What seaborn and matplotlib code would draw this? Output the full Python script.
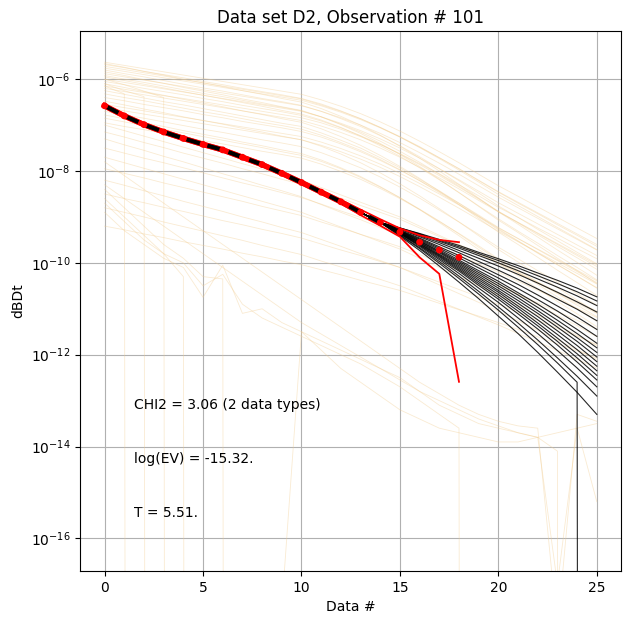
import numpy as np
import pandas as pd
import seaborn as sns
import matplotlib.pyplot as plt
from matplotlib.ticker import NullLocator

# log10 values; Z marks a zero sample, nan = not drawn
Z = -300.0
N = np.nan

data_x = list(range(26))

# observed data (red dots) for data # 0..18
d_obs_log = [-6.58, -6.80, -6.99, -7.15, -7.29, -7.42, -7.54, -7.70, -7.86, -8.05,
             -8.25, -8.46, -8.67, -8.90, -9.12, -9.33, -9.55, -9.72, -9.88]
d_upper_log = [-6.54, -6.76, -6.95, -7.11, -7.25, -7.38, -7.50, -7.66, -7.82, -8.01,
               -8.21, -8.42, -8.63, -8.84, -9.05, -9.25, -9.40, -9.50, -9.55]
d_lower_log = [-6.62, -6.84, -7.03, -7.19, -7.33, -7.46, -7.58, -7.74, -7.90, -8.09,
               -8.29, -8.50, -8.71, -8.96, -9.19, -9.43, -9.88, -10.24, -12.59]

# posterior realisations: shared with the data up to #14, tails for #15..25
post_tails_log = [
    [-9.24, -9.36, -9.49, -9.62, -9.77, -9.91, -10.06, -10.22, -10.38, -10.55, -10.74],
    [-9.24, -9.37, -9.51, -9.65, -9.80, -9.95, -10.11, -10.28, -10.45, -10.63, -10.83],
    [-9.25, -9.38, -9.53, -9.68, -9.84, -10.00, -10.17, -10.35, -10.53, -10.72, -10.93],
    [-9.26, -9.41, -9.56, -9.73, -9.90, -10.07, -10.25, -10.44, -10.64, -10.85, -11.07],
    [-9.27, -9.43, -9.60, -9.78, -9.97, -10.16, -10.36, -10.57, -10.79, -11.01, -11.26],
    [-9.29, -9.46, -9.65, -9.84, -10.05, -10.26, -10.47, -10.70, -10.94, -11.18, -11.45],
    [-9.30, -9.48, -9.68, -9.89, -10.11, -10.33, -10.56, -10.80, -11.05, -11.32, -11.60],
    [-9.31, -9.50, -9.71, -9.94, -10.17, -10.40, -10.65, -10.90, -11.17, -11.45, -11.75],
    [-9.31, -9.52, -9.74, -9.97, -10.21, -10.45, -10.70, -10.97, -11.25, -11.54, -11.85],
    [-9.32, -9.53, -9.76, -10.00, -10.25, -10.50, -10.76, -11.04, -11.33, -11.63, -11.95],
    [-9.33, -9.55, -9.78, -10.03, -10.29, -10.55, -10.82, -11.10, -11.40, -11.71, -12.05],
    [-9.34, -9.56, -9.81, -10.06, -10.33, -10.60, -10.88, -11.17, -11.48, -11.80, -12.15],
    [-9.34, -9.58, -9.83, -10.09, -10.37, -10.64, -10.94, -11.24, -11.56, -11.89, -12.25],
    [-9.35, -9.59, -9.85, -10.12, -10.41, -10.69, -10.99, -11.31, -11.64, -11.98, -12.35],
    [-9.36, -9.61, -9.87, -10.15, -10.45, -10.74, -11.05, -11.37, -11.71, -12.07, -12.45],
    [-9.36, -9.62, -9.90, -10.18, -10.49, -10.79, -11.11, -11.44, -11.79, -12.16, -12.55],
    [-9.37, -9.64, -9.93, -10.23, -10.55, -10.86, -11.20, -11.54, -11.91, -12.29, -12.70],
    [-9.39, -9.67, -9.97, -10.29, -10.62, -10.96, -11.31, -11.68, -12.07, -12.47, -12.90],
    [-9.42, -9.73, -10.07, -10.42, -10.78, -11.16, -11.54, -11.95, -12.38, -12.82, -13.30],
    [-9.40, -9.69, -10.01, -10.34, -10.68, -11.03, -11.40, -11.78, -12.18, -12.60, Z],
]

# prior realisations (faint orange), data # 0..25
prior_log = [
    [-5.63, -5.70, -5.77, -5.84, -5.91, -5.98, -6.05, -6.12, -6.19, -6.26, -6.33, -6.45, -6.59,
     -6.75, -6.93, -7.13, -7.35, -7.58, -7.82, -8.07, -8.32, -8.55, -8.78, -9.01, -9.24, -9.47],
    [-5.66, -5.74, -5.83, -5.91, -6.00, -6.08, -6.16, -6.25, -6.33, -6.42, -6.50, -6.64, -6.81,
     -7.00, -7.22, -7.46, -7.72, -8.00, -8.29, -8.59, -8.89, -9.16, -9.44, -9.72, -9.99, -10.27],
    [-5.68, -5.75, -5.83, -5.90, -5.97, -6.05, -6.12, -6.20, -6.27, -6.34, -6.42, -6.54, -6.69,
     -6.86, -7.05, -7.26, -7.49, -7.73, -7.98, -8.24, -8.51, -8.75, -8.99, -9.23, -9.47, -9.71],
    [-5.72, -5.79, -5.86, -5.93, -6.01, -6.08, -6.15, -6.22, -6.29, -6.36, -6.43, -6.56, -6.70,
     -6.86, -7.05, -7.25, -7.47, -7.71, -7.95, -8.21, -8.46, -8.70, -8.93, -9.17, -9.40, -9.64],
    [-5.76, -5.83, -5.90, -5.97, -6.04, -6.11, -6.18, -6.25, -6.32, -6.39, -6.46, -6.58, -6.72,
     -6.88, -7.06, -7.26, -7.48, -7.71, -7.95, -8.20, -8.45, -8.68, -8.91, -9.14, -9.37, -9.60],
    [-5.80, -5.88, -5.95, -6.03, -6.11, -6.19, -6.26, -6.34, -6.42, -6.49, -6.57, -6.70, -6.86,
     -7.03, -7.23, -7.45, -7.69, -7.95, -8.21, -8.48, -8.76, -9.01, -9.27, -9.52, -9.77, -10.02],
    [-5.84, -5.92, -6.01, -6.09, -6.18, -6.26, -6.34, -6.43, -6.51, -6.60, -6.68, -6.82, -6.99,
     -7.18, -7.40, -7.64, -7.90, -8.18, -8.47, -8.77, -9.07, -9.34, -9.62, -9.90, -10.17, -10.45],
    [-5.88, -5.95, -6.02, -6.09, -6.16, -6.23, -6.30, -6.37, -6.44, -6.51, -6.58, -6.70, -6.84,
     -7.00, -7.18, -7.38, -7.60, -7.83, -8.07, -8.32, -8.57, -8.80, -9.03, -9.26, -9.49, -9.72],
    [-5.92, -6.00, -6.07, -6.15, -6.23, -6.31, -6.38, -6.46, -6.54, -6.61, -6.69, -6.82, -6.98,
     -7.15, -7.35, -7.57, -7.81, -8.07, -8.33, -8.60, -8.88, -9.13, -9.39, -9.64, -9.89, -10.14],
    [-5.95, -6.03, -6.11, -6.19, -6.27, -6.35, -6.43, -6.51, -6.59, -6.68, -6.76, -6.89, -7.05,
     -7.24, -7.45, -7.68, -7.93, -8.19, -8.47, -8.76, -9.04, -9.31, -9.57, -9.84, -10.10, -10.37],
    [-6.00, -6.07, -6.14, -6.21, -6.28, -6.35, -6.42, -6.49, -6.56, -6.63, -6.70, -6.82, -6.96,
     -7.12, -7.30, -7.50, -7.72, -7.95, -8.19, -8.44, -8.69, -8.92, -9.15, -9.38, -9.61, -9.84],
    [-6.05, -6.12, -6.20, -6.27, -6.34, -6.42, -6.49, -6.57, -6.64, -6.71, -6.79, -6.91, -7.06,
     -7.23, -7.42, -7.63, -7.86, -8.10, -8.35, -8.61, -8.88, -9.12, -9.36, -9.60, -9.84, -10.08],
    [-6.10, -6.18, -6.27, -6.35, -6.44, -6.52, -6.60, -6.69, -6.77, -6.86, -6.94, -7.08, -7.25,
     -7.44, -7.66, -7.90, -8.16, -8.44, -8.73, -9.03, -9.33, -9.60, -9.88, -10.16, -10.43, -10.71],
    [-6.15, -6.22, -6.29, -6.36, -6.42, -6.49, -6.56, -6.63, -6.70, -6.77, -6.84, -6.95, -7.09,
     -7.25, -7.42, -7.62, -7.84, -8.06, -8.30, -8.54, -8.79, -9.01, -9.24, -9.46, -9.69, -9.91],
    [-6.20, -6.27, -6.34, -6.41, -6.48, -6.55, -6.62, -6.69, -6.76, -6.83, -6.90, -7.02, -7.16,
     -7.32, -7.50, -7.70, -7.92, -8.15, -8.39, -8.64, -8.89, -9.12, -9.35, -9.58, -9.81, -10.04],
    [-6.25, -6.33, -6.41, -6.49, -6.56, -6.64, -6.72, -6.80, -6.88, -6.96, -7.03, -7.17, -7.33,
     -7.50, -7.71, -7.93, -8.18, -8.43, -8.70, -8.98, -9.26, -9.52, -9.78, -10.04, -10.29, -10.55],
    [-6.32, -6.40, -6.47, -6.55, -6.63, -6.71, -6.78, -6.86, -6.94, -7.01, -7.09, -7.22, -7.38,
     -7.55, -7.75, -7.97, -8.21, -8.47, -8.73, -9.00, -9.28, -9.53, -9.79, -10.04, -10.29, -10.54],
    [-6.40, -6.47, -6.55, -6.62, -6.69, -6.77, -6.84, -6.92, -6.99, -7.06, -7.14, -7.26, -7.41,
     -7.58, -7.77, -7.98, -8.21, -8.45, -8.70, -8.96, -9.23, -9.47, -9.71, -9.95, -10.19, -10.43],
    [-6.48, -6.56, -6.65, -6.73, -6.82, -6.90, -6.98, -7.07, -7.15, -7.24, -7.32, -7.46, -7.63,
     -7.82, -8.04, -8.28, -8.54, -8.82, -9.11, -9.41, -9.71, -9.98, -10.26, -10.54, -10.81, -11.09],
    [-6.55, -6.62, -6.69, -6.76, -6.83, -6.90, -6.97, -7.04, -7.11, -7.18, -7.25, -7.37, -7.51,
     -7.67, -7.85, -8.05, -8.27, -8.50, -8.74, -8.99, -9.24, -9.47, -9.70, -9.93, -10.16, -10.39],
    [-6.62, -6.69, -6.76, -6.83, -6.90, -6.97, -7.04, -7.11, -7.18, -7.25, -7.32, -7.44, -7.58,
     -7.74, -7.92, -8.12, -8.34, -8.57, -8.81, -9.06, -9.31, -9.54, -9.77, -10.00, -10.23, -10.46],
    [-6.70, -6.78, -6.85, -6.93, -7.01, -7.09, -7.16, -7.24, -7.32, -7.39, -7.47, -7.60, -7.76,
     -7.93, -8.13, -8.35, -8.59, -8.85, -9.11, -9.38, -9.66, -9.91, -10.17, -10.42, -10.67, -10.92],
    [-6.78, -6.86, -6.95, -7.03, -7.12, -7.20, -7.28, -7.37, -7.45, -7.54, -7.62, -7.76, -7.93,
     -8.12, -8.34, -8.58, -8.84, -9.12, -9.41, -9.71, -10.01, -10.28, -10.56, -10.84, -11.11, -11.39],
    [-6.85, -6.93, -7.01, -7.09, -7.17, -7.25, -7.33, -7.41, -7.49, -7.58, -7.66, -7.79, -7.95,
     -8.14, -8.35, -8.58, -8.83, -9.09, -9.37, -9.66, -9.94, -10.21, -10.47, -10.74, -11.00, -11.27],
    [-6.95, -7.03, -7.10, -7.18, -7.26, -7.34, -7.41, -7.49, -7.57, -7.64, -7.72, -7.85, -8.01,
     -8.18, -8.38, -8.60, -8.84, -9.10, -9.36, -9.63, -9.91, -10.16, -10.42, -10.67, -10.92, -11.17],
    [-7.00, -7.12, -7.24, -7.36, -7.48, -7.60, -7.72, -7.84, -7.96, -8.08, -8.20, -8.36, -8.52,
     -8.68, -8.84, -9.00, -9.20, -9.40, -9.60, -9.80, -10.00, -10.22, -10.44, -10.66, -10.88, -11.10],
    [-7.15, -7.26, -7.38, -7.49, -7.61, -7.72, -7.83, -7.95, -8.06, -8.18, -8.29, -8.44, -8.59,
     -8.75, -8.90, -9.05, -9.24, -9.43, -9.62, -9.81, -10.00, -10.21, -10.42, -10.63, -10.84, -11.05],
    [-7.30, -7.43, -7.55, -7.68, -7.80, -7.93, -8.06, -8.18, -8.31, -8.43, -8.56, -8.73, -8.90,
     -9.06, -9.23, -9.40, -9.61, -9.82, -10.03, -10.24, -10.45, -10.68, -10.91, -11.14, -11.37, -11.61],
    [-7.50, -7.61, -7.72, -7.82, -7.93, -8.04, -8.15, -8.26, -8.36, -8.47, -8.58, -8.72, -8.87,
     -9.01, -9.16, -9.30, -9.48, -9.66, -9.84, -10.02, -10.20, -10.40, -10.60, -10.79, -10.99, -11.19],
    [-7.70, -7.82, -7.94, -8.06, -8.18, -8.30, -8.42, -8.54, -8.66, -8.78, -8.90, -9.06, -9.22,
     -9.38, -9.54, -9.70, -9.90, -10.10, -10.30, -10.50, -10.70, -10.92, -11.14, -11.36, -11.58, -11.80],
    [-7.95, -8.05, -8.15, -8.26, -8.36, -8.46, -8.56, -8.66, -8.77, -8.87, -8.97, -9.11, -9.24,
     -9.38, -9.51, -9.65, -9.82, -9.99, -10.16, -10.33, -10.50, -10.69, -10.87, -11.06, -11.25, -11.44],
    [-8.20, -8.31, -8.43, -8.54, -8.66, -8.77, -8.88, -9.00, -9.11, -9.23, -9.34, -9.49, -9.64,
     -9.80, -9.95, -10.10, -10.29, -10.48, -10.67, -10.86, -11.05, -11.26, -11.47, -11.68, -11.89, -12.10],
    [-8.50, -8.60, -8.69, -8.79, -8.88, -8.98, -9.08, -9.17, -9.27, -9.36, -9.46, -9.59, -9.72,
     -9.84, -9.97, -10.10, -10.26, -10.42, -10.58, -10.74, -10.90, -11.08, -11.25, -11.43, -11.60, -11.78],
    [-8.80, -8.90, -9.00, -9.11, -9.21, -9.31, -9.41, -9.51, -9.62, -9.72, -9.82, -9.96, -10.09,
     -10.23, -10.36, -10.50, -10.67, -10.84, -11.01, -11.18, -11.35, -11.54, -11.72, -11.91, -12.10, -12.29],
    [-9.20, -9.28, -9.37, -9.45, -9.54, -9.62, -9.70, -9.79, -9.87, -9.96, -10.04, -10.15, -10.26,
     -10.38, -10.49, -10.60, -10.74, -10.88, -11.02, -11.16, -11.30, -11.45, -11.61, -11.76, -11.92, -12.07],
    # noisy / truncated realisations
    [-8.90, -9.30, -9.60, -9.90, -10.10, -10.75, -10.05, -11.10, -11.00, -11.30, -11.50, -11.70, -11.90,
     -12.10, -12.30, -12.50, -12.80, -13.10, -13.30, -13.50, -13.60, -13.70, -13.80, -14.10, Z, Z],
    [-8.70, -9.10, -9.50, -9.80, -10.00, -10.50, -10.25, -10.90, -11.20, -11.40, -11.60, -11.80, -12.00,
     -12.20, -12.45, -12.70, -13.00, -13.30, -13.60, Z, Z, Z, Z, Z, Z, Z],
    [-8.30, -8.60, -8.90, -9.20, -9.50, -9.80, -10.10, -10.40, -10.70, -11.00, -11.30, -11.55, -11.80,
     -12.05, -12.30, -12.55, -12.80, -13.00, -13.20, -13.40, -13.55, -13.70, -13.80, -17.00, -13.60, -15.20],
    [-7.80, -8.10, -8.40, -8.70, -9.00, -9.30, -9.60, -9.90, -10.20, -10.50, -10.80, -11.10, -11.40,
     -11.70, -12.00, -12.30, -12.60, -12.85, -13.10, -13.30, -13.45, -13.55, -13.60, -18.00, -13.30, -13.45],
    [-8.60, -9.00, -9.40, -9.80, -10.30, Z, Z, Z, Z, Z, Z, Z, Z, Z, Z, Z, Z, Z, Z, Z, Z, Z, Z, Z, Z, Z],
    [-8.40, -8.80, -9.20, -9.60, -9.90, -10.30, -10.35, Z, Z, Z, Z, Z, Z, Z, Z, Z, Z, Z, Z, Z, Z, Z,
     Z, Z, Z, Z],
    [N, N, N, N, N, N, N, N, N, -17.50, -11.50, -11.90, -12.30, -12.60, -12.90, -13.20, -13.40,
     -13.60, -13.70, -13.80, -13.90, -13.90, -13.80, -13.70, -13.60, -13.50],
    [-6.15, -6.32, Z, Z, Z, Z, Z, Z, Z, Z, Z, Z, Z, Z, Z, Z, Z, Z, Z, Z, Z, Z, Z, Z, Z, Z],
    [-6.10, -6.25, -6.38, Z, Z, Z, Z, Z, Z, Z, Z, Z, Z, Z, Z, Z, Z, Z, Z, Z, Z, Z, Z, Z, Z, Z],
    [-6.00, -6.12, -6.26, -6.40, Z, Z, Z, Z, Z, Z, Z, Z, Z, Z, Z, Z, Z, Z, Z, Z, Z, Z, Z, Z, Z, Z],
]

y_tick_values = [1e-6, 1e-8, 1e-10, 1e-12, 1e-14, 1e-16]
stats_text = ["CHI2 = 3.06 (2 data types)", "log(EV) = -15.32.", "T = 5.51."]

# long tables for seaborn
prior_rows = []
for i, curve in enumerate(prior_log):
    for x, v in zip(data_x, curve):
        prior_rows.append({"curve": i, "x": x, "y": 10.0 ** v})
prior_df = pd.DataFrame(prior_rows).dropna()

post_rows = []
for i, tail in enumerate(post_tails_log):
    curve = d_obs_log[:15] + tail
    for x, v in zip(data_x, curve):
        post_rows.append({"curve": i, "x": x, "y": 10.0 ** v})
post_df = pd.DataFrame(post_rows)

n_obs = len(d_obs_log)
obs_df = pd.DataFrame({
    "x": data_x[:n_obs],
    "obs": 10.0 ** np.array(d_obs_log),
    "upper": 10.0 ** np.array(d_upper_log),
    "lower": 10.0 ** np.array(d_lower_log),
})

fig = plt.figure(figsize=(6.31, 6.23), dpi=100)
ax = fig.add_axes([0.1268, 0.0835, 0.858, 0.8668])

sns.lineplot(data=prior_df, x="x", y="y", units="curve", estimator=None,
             color=(0.95, 0.80, 0.56), alpha=0.4, lw=0.6, ax=ax, legend=False)
sns.lineplot(data=post_df, x="x", y="y", units="curve", estimator=None,
             color="k", alpha=0.85, lw=0.8, ax=ax, legend=False)

sns.lineplot(data=obs_df[obs_df["x"] <= 13], x="x", y="obs", color="red", lw=4, ax=ax)
sns.lineplot(data=obs_df, x="x", y="upper", color="red", lw=1.3, ax=ax)
sns.lineplot(data=obs_df, x="x", y="lower", color="red", lw=1.3, ax=ax)
sns.lineplot(data=obs_df[obs_df["x"] <= 14], x="x", y="obs", color="k",
             lw=3, linestyle="--", ax=ax)
sns.scatterplot(data=obs_df, x="x", y="obs", color="red", s=24,
                edgecolor="none", ax=ax, zorder=5)

ax.set_yscale("log")
ax.set_xlim(-1.25, 26.25)
ax.set_ylim(10 ** -16.71, 10 ** -4.95)
ax.set_yticks(y_tick_values)
ax.yaxis.set_minor_locator(NullLocator())
ax.grid(True)

for k, txt in enumerate(stats_text):
    ax.text(0.1, 0.3 - 0.1 * k, txt, transform=ax.transAxes)

ax.set_title("Data set D2, Observation # 101")
ax.set_xlabel("Data #")
ax.set_ylabel("dBDt")

fig.savefig("out.png", dpi=100)
